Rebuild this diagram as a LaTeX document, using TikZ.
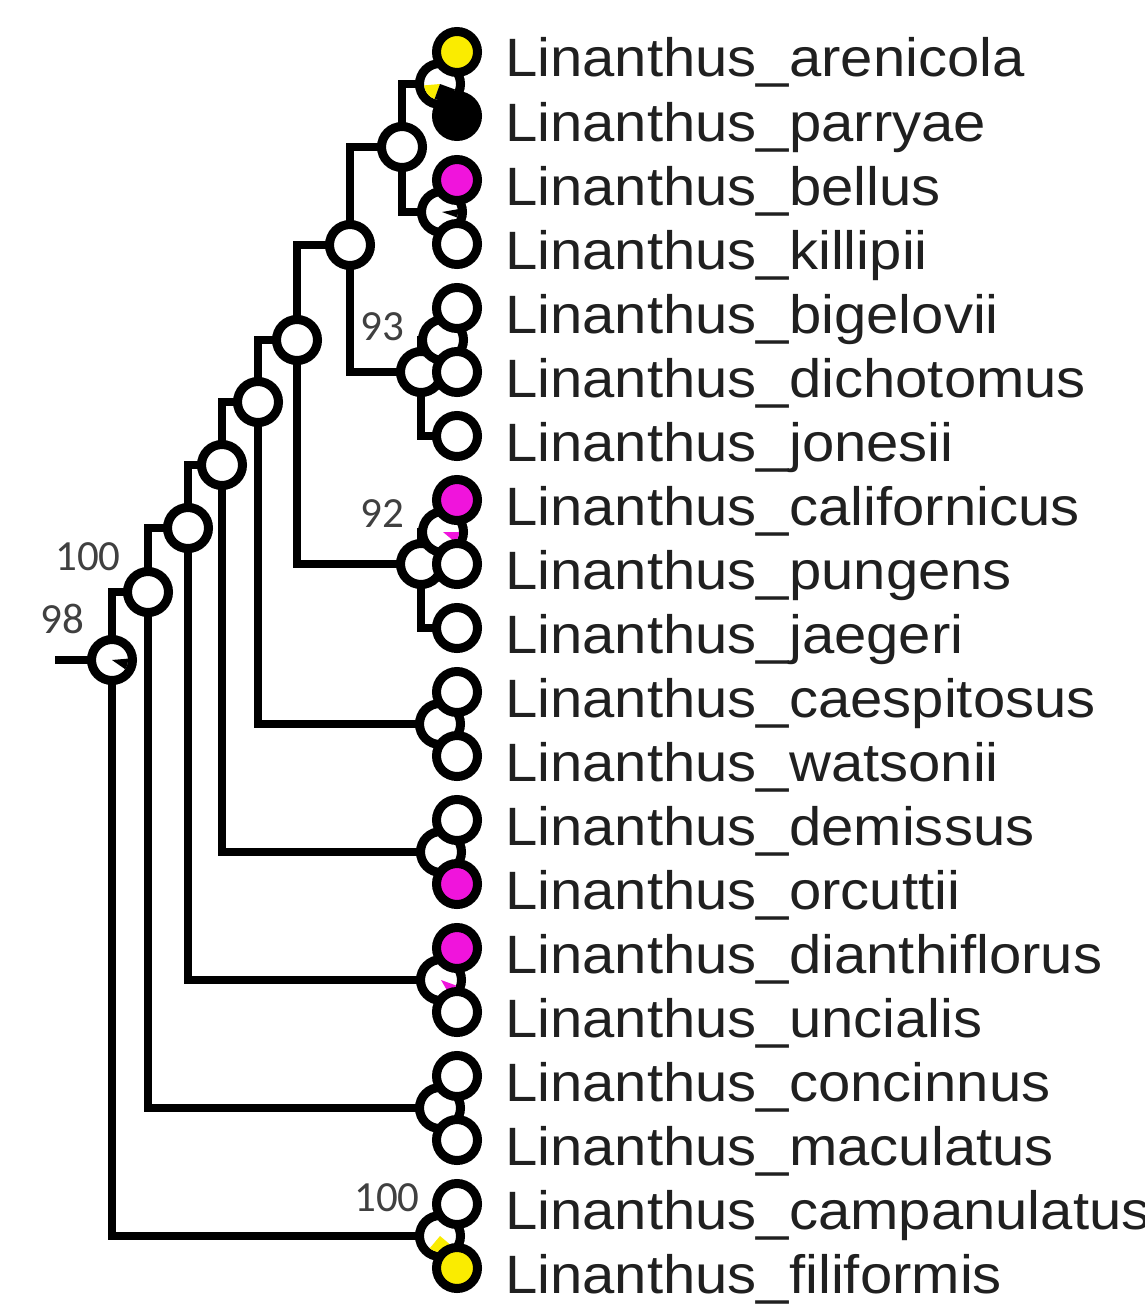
\documentclass[tikz,border=0pt]{standalone}
\usepackage{fontspec}
\setmainfont{Liberation Sans}
\newfontfamily\supfont{Carlito}
\usetikzlibrary{backgrounds}
\definecolor{pieyellow}{RGB}{250,236,0}
\definecolor{piemagenta}{RGB}{240,20,220}
\definecolor{labelgray}{RGB}{32,32,32}
\definecolor{supgray}{RGB}{64,64,64}
% filled slice of a state circle: node, start angle, end angle, colour
\newcommand\stateslice[4]{\fill[#4] (#1.center) -- ++(#2:16pt) arc[start angle=#2, end angle=#3, radius=16pt] -- cycle;}
\begin{document}
\begin{tikzpicture}[x=1pt,y=-1pt,
  branch/.style={line width=8.5pt, line join=miter},
  statecirc/.style={circle, draw, line width=9pt, minimum size=41pt, inner sep=0pt, fill=white},
  taxon/.style={anchor=base west, text=labelgray, font=\fontsize{54}{60}\selectfont, inner sep=0pt},
  support/.style={text=supgray, font=\supfont\fontsize{43}{45}\selectfont, inner sep=0pt}]
\useasboundingbox (0,0) rectangle (1145,1306);

% ---- ancestral state circles (internal nodes) ----
\node[statecirc] (root) at (112,660) {};
\stateslice{root}{-35}{5}{black}
\node[statecirc] (n148) at (148,592) {};
\node[statecirc] (n188) at (188,528) {};
\node[statecirc] (n222) at (222,465) {};
\node[statecirc] (n258) at (258,402) {};
\node[statecirc] (n297) at (297,340) {};
\node[statecirc] (n350) at (350,245) {};
\node[statecirc] (n4) at (402,147) {};
\node[statecirc] (nAP) at (440,84) {};
\stateslice{nAP}{185}{250}{pieyellow}
\stateslice{nAP}{250}{340}{black}
\node[statecirc] (nBK) at (442,212) {};
\stateslice{nBK}{-20}{10}{black}
\node[statecirc] (n93) at (421,372) {};
\node[statecirc] (nBig) at (443,340) {};
\node[statecirc] (n92) at (421,564) {};
\node[statecirc] (nCal) at (443,532) {};
\stateslice{nCal}{-40}{0}{piemagenta}
\node[statecirc] (nCW) at (440,724) {};
\node[statecirc] (nDO) at (441,852) {};
\node[statecirc] (nDU) at (441,980) {};
\stateslice{nDU}{-60}{-20}{piemagenta}
\node[statecirc] (nCM) at (440,1108) {};
\node[statecirc] (nCF) at (440,1236) {};
\stateslice{nCF}{230}{320}{pieyellow}

% ---- tip states ----
\node[statecirc, fill=pieyellow] (arenicola) at (457,52) {};
\node[statecirc, fill=black] (parryae) at (457,116) {};
\node[statecirc, fill=piemagenta] (bellus) at (457,180) {};
\node[statecirc] (killipii) at (457,244) {};
\node[statecirc] (bigelovii) at (457,308) {};
\node[statecirc] (dichotomus) at (457,372) {};
\node[statecirc] (jonesii) at (457,436) {};
\node[statecirc, fill=piemagenta] (californicus) at (457,500) {};
\node[statecirc] (pungens) at (457,564) {};
\node[statecirc] (jaegeri) at (457,628) {};
\node[statecirc] (caespitosus) at (457,692) {};
\node[statecirc] (watsonii) at (457,756) {};
\node[statecirc] (demissus) at (457,820) {};
\node[statecirc, fill=piemagenta] (orcuttii) at (457,884) {};
\node[statecirc, fill=piemagenta] (dianthiflorus) at (457,948) {};
\node[statecirc] (uncialis) at (457,1012) {};
\node[statecirc] (concinnus) at (457,1076) {};
\node[statecirc] (maculatus) at (457,1140) {};
\node[statecirc] (campanulatus) at (457,1204) {};
\node[statecirc, fill=pieyellow] (filiformis) at (457,1268) {};

% ---- taxon names ----
\foreach \t/\y in {arenicola/52, parryae/116, bellus/180, killipii/244,
  bigelovii/308, dichotomus/372, jonesii/436, californicus/500,
  pungens/564, jaegeri/628, caespitosus/692, watsonii/756,
  demissus/820, orcuttii/884, dianthiflorus/948, uncialis/1012,
  concinnus/1076, maculatus/1140, campanulatus/1204, filiformis/1268}
  \node[taxon] (L\t) at (505,\y+25) {\scalebox{1.075}[1]{Linanthus\_\t}};

% ---- support values ----
\node[support] (s98) at (62,619) {98};
\node[support] (s100a) at (88,557) {100};
\node[support] (s93) at (382,327) {93};
\node[support] (s92) at (382,514) {92};
\node[support] (s100b) at (387,1198) {100};

% ---- branches: parent's vertical joins its two children ----
\begin{scope}[on background layer]
  \fill[white] (0,0) rectangle (1145,1306);
  \coordinate (stub) at (55,660);
  \draw[branch] (stub) -- (root.center);
  \foreach \p/\a/\b in {root/n148/nCF, n148/n188/nCM, n188/n222/nDU,
      n222/n258/nDO, n258/n297/nCW, n297/n350/n92, n350/n4/n93,
      n4/nAP/nBK, n93/nBig/jonesii, n92/nCal/jaegeri,
      nAP/arenicola/parryae, nBK/bellus/killipii,
      nBig/bigelovii/dichotomus, nCal/californicus/pungens,
      nCW/caespitosus/watsonii, nDO/demissus/orcuttii,
      nDU/dianthiflorus/uncialis, nCM/concinnus/maculatus,
      nCF/campanulatus/filiformis}
    \draw[branch] (\a.center) -| (\p.center) |- (\b.center);
\end{scope}
\end{tikzpicture}
\end{document}
